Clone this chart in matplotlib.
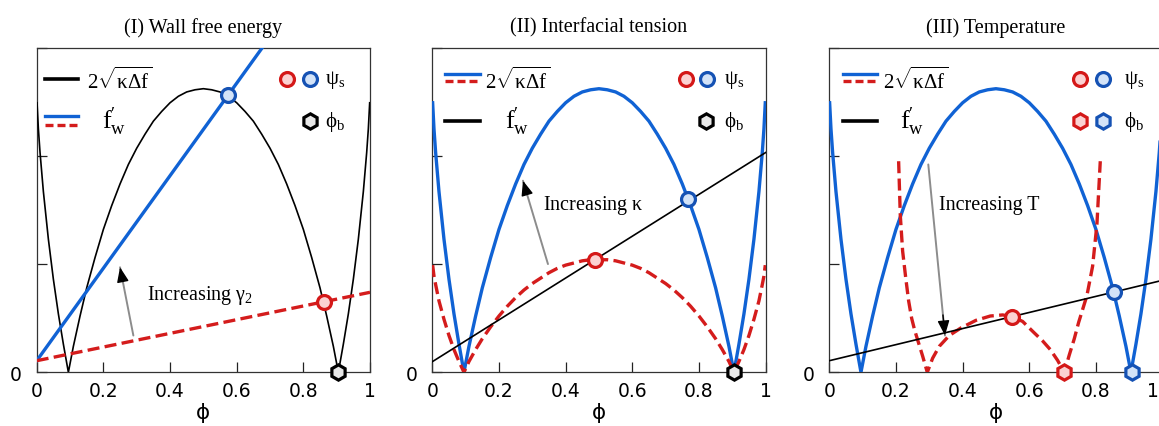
import matplotlib
matplotlib.use('Agg')
import matplotlib.pyplot as plt
import matplotlib.transforms as mtransforms
from matplotlib.patches import FancyArrowPatch

plt.rcParams['font.family'] = ['DejaVu Sans']
plt.rcParams['mathtext.fontset'] = 'custom'
plt.rcParams['mathtext.rm'] = 'Liberation Serif'
plt.rcParams['mathtext.it'] = 'Liberation Serif:italic'
plt.rcParams['mathtext.bf'] = 'Liberation Serif:bold'

SERIF = ['Liberation Serif', 'DejaVu Serif']

# ---------------- data ----------------
titles = ['(I) Wall free energy', '(II) Interfacial tension', '(III) Temperature']
xtick_vals = [0, 0.2, 0.4, 0.6, 0.8, 1]
xtick_labels = ['0', '0.2', '0.4', '0.6', '0.8', '1']
ytick_vals = [0, 1, 2, 3]
ytick_labels = ['0', '', '', '']

# 2 sqrt(kappa Delta f) curve (panel I black, panels II/III blue)
phi_S = [0.001, 0.005, 0.01, 0.02, 0.035, 0.05, 0.065, 0.08, 0.095, 0.11, 0.13, 0.15,
         0.175, 0.2, 0.225, 0.25, 0.275, 0.3, 0.325, 0.35, 0.375, 0.4, 0.425, 0.45,
         0.475, 0.5, 0.525, 0.55, 0.575, 0.6, 0.625, 0.65, 0.675, 0.7, 0.725, 0.75,
         0.775, 0.8, 0.825, 0.85, 0.87, 0.89, 0.905, 0.92, 0.935, 0.95, 0.965, 0.98,
         0.99, 0.995, 0.999]
tension_hi = [2.49, 2.25, 2.03, 1.67, 1.23, 0.86, 0.54, 0.26, 0.0, 0.24, 0.52, 0.78,
              1.06, 1.32, 1.54, 1.74, 1.92, 2.07, 2.20, 2.32, 2.41, 2.49, 2.55, 2.59,
              2.61, 2.62, 2.61, 2.59, 2.55, 2.49, 2.41, 2.32, 2.20, 2.07, 1.92, 1.74,
              1.54, 1.32, 1.06, 0.78, 0.52, 0.24, 0.0, 0.26, 0.54, 0.86, 1.23, 1.67,
              2.03, 2.25, 2.49]
# panel II, smaller kappa (red dashed)
tension_lo = [0.99, 0.89, 0.81, 0.66, 0.49, 0.34, 0.21, 0.10, 0.0, 0.10, 0.21, 0.31,
              0.42, 0.52, 0.61, 0.69, 0.76, 0.82, 0.87, 0.92, 0.96, 0.99, 1.01, 1.03,
              1.04, 1.04, 1.04, 1.03, 1.01, 0.99, 0.96, 0.92, 0.87, 0.82, 0.76, 0.69,
              0.61, 0.52, 0.42, 0.31, 0.21, 0.10, 0.0, 0.10, 0.21, 0.34, 0.49, 0.66,
              0.81, 0.89, 0.99]
# panel III, higher temperature (red dashed)
phi_T = [0.208, 0.213, 0.22, 0.229, 0.238, 0.247, 0.256, 0.264, 0.28, 0.294, 0.31, 0.33,
         0.36, 0.395, 0.44, 0.483, 0.52, 0.548, 0.58, 0.613, 0.64, 0.663, 0.685, 0.705,
         0.72, 0.735, 0.748, 0.762, 0.773, 0.79, 0.803, 0.813]
tension_hotT = [1.95, 1.45, 1.12, 0.88, 0.66, 0.50, 0.39, 0.31, 0.15, 0.0, 0.13, 0.24,
                0.34, 0.41, 0.48, 0.52, 0.53, 0.515, 0.47, 0.37, 0.29, 0.21, 0.11, 0.0,
                0.16, 0.31, 0.46, 0.60, 0.71, 0.98, 1.37, 1.95]

# wall free energy derivative lines f'_w (end points at phi=0 and phi=1)
line_phi = [0.0, 1.0]
fw_I_high = [0.107, 4.38]
fw_I_low = [0.107, 0.739]
fw_II = [0.098, 2.03]
fw_III = [0.107, 0.85]

# surface compositions psi_s (phi, value)
psi_I_blue = (0.575, 2.56)
psi_I_red = (0.862, 0.652)
psi_II_red = (0.487, 1.04)
psi_II_blue = (0.766, 1.60)
psi_III_red = (0.548, 0.514)
psi_III_blue = (0.855, 0.745)
# bulk compositions phi_b
phib_I = 0.905
phib_II = 0.905
phib_III_red = 0.703
phib_III_blue = 0.908

# ---------------- styles ----------------
BLUE = '#1062d4'
RED = '#d41c1c'
BLUE_EDGE = '#1552b4'
BLUE_FILL = '#d3e3f8'
RED_EDGE = '#d41818'
RED_FILL = '#fbd2d2'
GREY_FILL = '#e8e8e8'
DASH = (3.6, 1.6)

fig = plt.figure(figsize=(11.59, 4.27), dpi=100)
lefts = [0.03167, 0.37300, 0.71553]
W, B, H = 0.28758, 0.12576, 0.7605
axes = [fig.add_axes([l, B, W, H]) for l in lefts]

for ax, t in zip(axes, titles):
    ax.set_xlim(0, 1)
    ax.set_ylim(0, 3)
    ax.set_xticks(xtick_vals)
    ax.set_xticklabels(xtick_labels)
    ax.set_yticks(ytick_vals)
    ax.set_yticklabels(ytick_labels)
    ax.tick_params(axis='both', direction='in', length=7, width=0.9, labelsize=13.5,
                   color='#222222')
    ax.tick_params(axis='x', pad=6)
    ax.tick_params(axis='y', pad=10.5)
    for s in ax.spines.values():
        s.set_linewidth(0.9)
        s.set_color('#333333')
    ax.set_title(t, fontsize=14.5, family=SERIF, pad=11.5)
    ax.set_xlabel('ϕ', fontsize=15.5, labelpad=2, family='DejaVu Sans')

# the last tick label of the right panel sits at the figure edge: keep it inside
last_lbl = axes[2].get_xticklabels()[-1]
last_lbl.set_horizontalalignment('right')
last_lbl.set_transform(last_lbl.get_transform() +
                       mtransforms.ScaledTranslation(-4 / 100, 0, fig.dpi_scale_trans))


def circ(ax, p, edge, fill):
    ax.plot([p[0]], [p[1]], 'o', ms=10, mew=2.3, mec=edge, mfc=fill, zorder=6,
            clip_on=False)


def hexm(ax, x, y, edge, fill):
    ax.plot([x], [y], 'h', ms=11, mew=2.3, mec=edge, mfc=fill, zorder=6,
            clip_on=False)


def arrow(ax, start, end):
    shaft = FancyArrowPatch(start, end, arrowstyle='-', lw=1.4, color='#8c8c8c',
                            zorder=5, shrinkA=0, shrinkB=0)
    ax.add_patch(shaft)
    hs = (end[0] - 0.12 * (end[0] - start[0]), end[1] - 0.12 * (end[1] - start[1]))
    head = FancyArrowPatch(hs, end, arrowstyle='-|>,head_length=0.75,head_width=0.3',
                           mutation_scale=12, lw=1.0, color='black', zorder=5,
                           shrinkA=0, shrinkB=0)
    ax.add_patch(head)


def legend_common(ax, pos):
    tr = ax.transAxes
    ax.plot([pos['c1']], [0.903], 'o', ms=10, mew=2.3, mec=RED_EDGE, mfc=RED_FILL,
            transform=tr, clip_on=False, zorder=7)
    ax.plot([pos['c2']], [0.903], 'o', ms=10, mew=2.3, mec=BLUE_EDGE, mfc=BLUE_FILL,
            transform=tr, clip_on=False, zorder=7)
    ax.text(pos['ct'], 0.903, r'$\mathrm{\psi}_{\mathrm{s}}$', transform=tr,
            fontsize=15, va='center', ha='left')
    ax.text(pos['ct'], 0.775, r'$\mathrm{\phi}_{\mathrm{b}}$', transform=tr,
            fontsize=15, va='center', ha='left')


sqrt_label = r'$2\sqrt{\mathrm{\kappa\Delta f}}$'
fw_label = r'$\mathrm{f}_{\mathrm{w}}^{\prime}$'

# ---------------- Panel I ----------------
ax = axes[0]
tr = ax.transAxes
ax.plot(phi_S, tension_hi, color='black', lw=1.2, zorder=3)
ax.plot(line_phi, fw_I_high, color=BLUE, lw=2.4, zorder=3)
ax.plot(line_phi, fw_I_low, color=RED, lw=2.4, dashes=DASH, zorder=3)
circ(ax, psi_I_blue, BLUE_EDGE, BLUE_FILL)
circ(ax, psi_I_red, RED_EDGE, RED_FILL)
hexm(ax, phib_I, 0, 'black', GREY_FILL)
arrow(ax, (0.29, 0.34), (0.25, 0.97))
ax.text(0.33, 0.72, r'Increasing $\mathrm{\gamma}_{2}$', fontsize=14.5, family=SERIF,
        va='center', ha='left')
ax.plot([0.025, 0.125], [0.903, 0.903], color='black', lw=2.6, transform=tr, clip_on=False)
ax.text(0.152, 0.905, sqrt_label, transform=tr, fontsize=15, va='center')
ax.plot([0.025, 0.125], [0.789, 0.789], color=BLUE, lw=2.4, transform=tr, clip_on=False)
ax.plot([0.025, 0.125], [0.761, 0.761], color=RED, lw=2.4, dashes=(2.4, 1.2),
        transform=tr, clip_on=False)
ax.text(0.195, 0.775, fw_label, transform=tr, fontsize=19, va='center')
legend_common(ax, dict(c1=0.752, c2=0.820, ct=0.865))
ax.plot([0.820], [0.775], 'h', ms=11, mew=2.3, mec='black', mfc=GREY_FILL,
        transform=tr, clip_on=False, zorder=7)

# ---------------- Panel II ----------------
ax = axes[1]
tr = ax.transAxes
ax.plot(phi_S, tension_hi, color=BLUE, lw=2.4, zorder=3)
ax.plot(phi_S, tension_lo, color=RED, lw=2.4, dashes=DASH, zorder=3)
ax.plot(line_phi, fw_II, color='black', lw=1.2, zorder=4)
circ(ax, psi_II_red, RED_EDGE, RED_FILL)
circ(ax, psi_II_blue, BLUE_EDGE, BLUE_FILL)
hexm(ax, phib_II, 0, 'black', GREY_FILL)
arrow(ax, (0.347, 1.0), (0.272, 1.77))
ax.text(0.332, 1.55, r'Increasing $\mathrm{\kappa}$', fontsize=14.5, family=SERIF,
        va='center', ha='left')
ax.plot([0.038, 0.143], [0.918, 0.918], color=BLUE, lw=2.4, transform=tr, clip_on=False)
ax.plot([0.038, 0.143], [0.898, 0.898], color=RED, lw=2.4, dashes=(2.4, 1.2),
        transform=tr, clip_on=False)
ax.text(0.158, 0.905, sqrt_label, transform=tr, fontsize=15, va='center')
ax.plot([0.038, 0.143], [0.773, 0.773], color='black', lw=2.6, transform=tr, clip_on=False)
ax.text(0.217, 0.775, fw_label, transform=tr, fontsize=19, va='center')
legend_common(ax, dict(c1=0.762, c2=0.825, ct=0.876))
ax.plot([0.822], [0.775], 'h', ms=11, mew=2.3, mec='black', mfc=GREY_FILL,
        transform=tr, clip_on=False, zorder=7)

# ---------------- Panel III ----------------
ax = axes[2]
tr = ax.transAxes
ax.plot(phi_S, tension_hi, color=BLUE, lw=2.4, zorder=3)
ax.plot(phi_T, tension_hotT, color=RED, lw=2.4, dashes=DASH, zorder=3)
ax.plot(line_phi, fw_III, color='black', lw=1.2, zorder=4)
circ(ax, psi_III_red, RED_EDGE, RED_FILL)
circ(ax, psi_III_blue, BLUE_EDGE, BLUE_FILL)
hexm(ax, phib_III_red, 0, RED_EDGE, RED_FILL)
hexm(ax, phib_III_blue, 0, BLUE_EDGE, BLUE_FILL)
arrow(ax, (0.297, 1.92), (0.347, 0.34))
ax.text(0.329, 1.55, 'Increasing T', fontsize=14.5, family=SERIF,
        va='center', ha='left')
ax.plot([0.040, 0.144], [0.918, 0.918], color=BLUE, lw=2.4, transform=tr, clip_on=False)
ax.plot([0.040, 0.144], [0.898, 0.898], color=RED, lw=2.4, dashes=(2.4, 1.2),
        transform=tr, clip_on=False)
ax.text(0.162, 0.905, sqrt_label, transform=tr, fontsize=15, va='center')
ax.plot([0.040, 0.144], [0.773, 0.773], color='black', lw=2.6, transform=tr, clip_on=False)
ax.text(0.212, 0.775, fw_label, transform=tr, fontsize=19, va='center')
legend_common(ax, dict(c1=0.753, c2=0.821, ct=0.883))
ax.plot([0.753], [0.775], 'h', ms=11, mew=2.3, mec=RED_EDGE, mfc=RED_FILL,
        transform=tr, clip_on=False, zorder=7)
ax.plot([0.821], [0.775], 'h', ms=11, mew=2.3, mec=BLUE_EDGE, mfc=BLUE_FILL,
        transform=tr, clip_on=False, zorder=7)

fig.savefig('out.png', dpi=100)
